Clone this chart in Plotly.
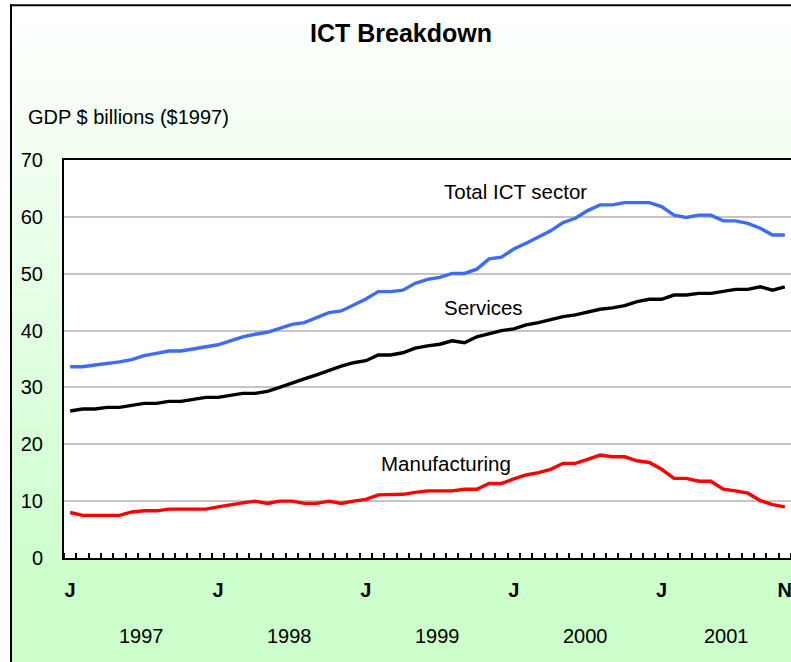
import plotly.graph_objects as go

# ---------------- data ----------------
month_index = list(range(59))  # Jan 1997 .. Nov 2001
total_ict = [33.65, 33.65, 33.95, 34.2, 34.5, 34.9, 35.6, 36.0, 36.4, 36.4, 36.8, 37.2, 37.5, 38.2,
             38.9, 39.35, 39.7, 40.4, 41.1, 41.4, 42.25, 43.15, 43.45, 44.5, 45.55, 46.85, 46.85,
             47.1, 48.3, 49.0, 49.35, 50.05, 50.05, 50.8, 52.6, 52.9, 54.35, 55.35, 56.5, 57.55,
             59.0, 59.75, 61.1, 62.1, 62.1, 62.5, 62.5, 62.5, 61.8, 60.3, 59.9, 60.3, 60.3, 59.3,
             59.3, 58.85, 58.0, 56.8, 56.8]
services = [25.85, 26.2, 26.2, 26.5, 26.5, 26.85, 27.2, 27.2, 27.55, 27.55, 27.95, 28.25, 28.25, 28.6,
            28.95, 28.95, 29.3, 30.0, 30.8, 31.5, 32.2, 33.05, 33.75, 34.35, 34.7, 35.7, 35.7,
            36.1, 36.9, 37.3, 37.6, 38.2, 37.85, 38.9, 39.4, 40.0, 40.3, 41.0, 41.4, 42.0, 42.45,
            42.75, 43.3, 43.75, 44.0, 44.4, 45.1, 45.5, 45.5, 46.25, 46.25, 46.55, 46.55, 46.95,
            47.25, 47.25, 47.7, 47.1, 47.7]
manufacturing = [8.0, 7.5, 7.5, 7.5, 7.5, 8.1, 8.3, 8.3, 8.6, 8.6, 8.6, 8.6, 9.0, 9.4, 9.7, 10.0,
                 9.6, 10.0, 10.0, 9.6, 9.6, 10.0, 9.6, 10.0, 10.3, 11.1, 11.1,
                 11.2, 11.55, 11.8, 11.8, 11.8, 12.1, 12.1, 13.1, 13.1, 13.9, 14.6, 15.0, 15.6,
                 16.65, 16.65, 17.35, 18.1, 17.8, 17.8, 17.1, 16.8, 15.6, 14.0, 14.0, 13.5, 13.5,
                 12.1, 11.8, 11.4, 10.1, 9.4, 9.0]
tick_positions = [0, 12, 24, 36, 48, 58]
tick_labels = ["J", "J", "J", "J", "J", "N"]
years = ["1997", "1998", "1999", "2000", "2001"]
year_first_month = [0, 12, 24, 36, 48]
year_last_month = [11, 23, 35, 47, 58]
y_ticks = [0, 10, 20, 30, 40, 50, 60, 70]

# ---------------- layout geometry ----------------
# figure is slightly wider than the 791px window; the overflow is simply cut off
W, H = 800, 662
L, R, T, B = 64, 9, 160, 104
PW, PH = W - L - R, H - T - B


def px(x):
    return (x - L) / PW


def py(y):
    return (H - B - y) / PH


FONT = "Liberation Sans, Arial, sans-serif"
FS = 20

fig = go.Figure()
fig.add_trace(go.Scatter(x=month_index, y=total_ict, mode="lines",
                         line=dict(color="#3d6bff", width=3.4), hoverinfo="skip"))
fig.add_trace(go.Scatter(x=month_index, y=services, mode="lines",
                         line=dict(color="#000000", width=3.4), hoverinfo="skip"))
fig.add_trace(go.Scatter(x=month_index, y=manufacturing, mode="lines",
                         line=dict(color="#ff0000", width=3.4), hoverinfo="skip"))

# background gradient (white -> light green)
shapes = []
top, bottom_grad, n = 5, 580, 60
for k in range(n):
    y0 = top + (bottom_grad - top) * k / n
    y1 = top + (bottom_grad - top) * (k + 1) / n
    f = (k + 0.5) / n
    g = round(255 - (255 - 204) * f)
    col = f"rgb({g},255,{g})"
    shapes.append(dict(type="rect", xref="paper", yref="paper", layer="below",
                       x0=px(11), x1=px(W), y0=py(y1 + 0.5), y1=py(y0),
                       fillcolor=col, line=dict(width=0)))
shapes.append(dict(type="rect", xref="paper", yref="paper", layer="below",
                   x0=px(11), x1=px(W), y0=py(662), y1=py(bottom_grad),
                   fillcolor="rgb(204,255,204)", line=dict(width=0)))
# white plot area
shapes.append(dict(type="rect", xref="paper", yref="paper", layer="below",
                   x0=0, x1=1, y0=0, y1=1, fillcolor="white", line=dict(width=0)))
# outer chart border (left and top edges only visible)
shapes.append(dict(type="line", xref="paper", yref="paper", layer="above",
                   x0=px(11), x1=px(11), y0=py(662), y1=py(4.3),
                   line=dict(color="black", width=2)))
shapes.append(dict(type="line", xref="paper", yref="paper", layer="above",
                   x0=px(10), x1=px(W), y0=py(5.3), y1=py(5.3),
                   line=dict(color="black", width=2)))

annotations = [
    dict(text="<b>ICT Breakdown</b>", xref="paper", yref="paper", x=px(401), y=py(33),
         showarrow=False, font=dict(size=25, color="black", family=FONT),
         xanchor="center", yanchor="middle"),
    dict(text="GDP $ billions ($1997)", xref="paper", yref="paper", x=px(26), y=py(117),
         showarrow=False, font=dict(size=FS, color="black", family=FONT),
         xanchor="left", yanchor="middle"),
    dict(text="Total ICT sector", x=30.2, y=64.4, showarrow=False, xanchor="left",
         yanchor="middle", font=dict(size=FS + 0.5, color="black", family=FONT)),
    dict(text="Services", x=30.2, y=44.0, showarrow=False, xanchor="left",
         yanchor="middle", font=dict(size=FS + 0.5, color="black", family=FONT)),
    dict(text="Manufacturing", x=25.1, y=16.7, showarrow=False, xanchor="left",
         yanchor="middle", font=dict(size=FS + 0.5, color="black", family=FONT)),
]
for yr, a, b in zip(years, year_first_month, year_last_month):
    annotations.append(dict(text=yr, x=(a + b) / 2 + 0.3, xref="x", yref="paper", y=py(636),
                            showarrow=False, xanchor="center", yanchor="middle",
                            font=dict(size=FS, color="black", family=FONT)))

fig.update_layout(
    width=W, height=H,
    margin=dict(l=L, r=R, t=T, b=B, pad=0),
    paper_bgcolor="white", plot_bgcolor="white",
    showlegend=False,
    font=dict(family=FONT, color="black", size=FS),
    shapes=shapes, annotations=annotations,
    xaxis=dict(range=[-0.5, 58.5], showgrid=False, zeroline=False,
               showline=True, linecolor="black", linewidth=2, mirror=True,
               tickvals=tick_positions, ticktext=[f"<b>{t}</b>" for t in tick_labels],
               ticks="", ticklabelstandoff=13, ticklabeloverflow="allow",
               tickfont=dict(size=FS, color="black", family=FONT),
               minor=dict(tick0=0.5, dtick=1, ticks="inside", ticklen=5,
                          tickcolor="black", tickwidth=1.5, showgrid=False)),
    yaxis=dict(range=[0, 70], tickvals=y_ticks, showgrid=True, gridcolor="#c4c4c4",
               gridwidth=1.5, zeroline=False, showline=True, linecolor="black",
               linewidth=2, ticks="", ticklabelstandoff=15,
               tickfont=dict(size=FS, color="black", family=FONT)),
)

fig.write_html(
    "out.html", config={"displayModeBar": False},
    post_script=("document.documentElement.style.overflow='hidden';"
                 "document.body.style.overflow='hidden';"
                 "document.body.style.margin='0';"
                 "var d=document.getElementById('{plot_id}');"
                 "d.style.position='fixed';d.style.left='0px';d.style.top='0px';"),
)
